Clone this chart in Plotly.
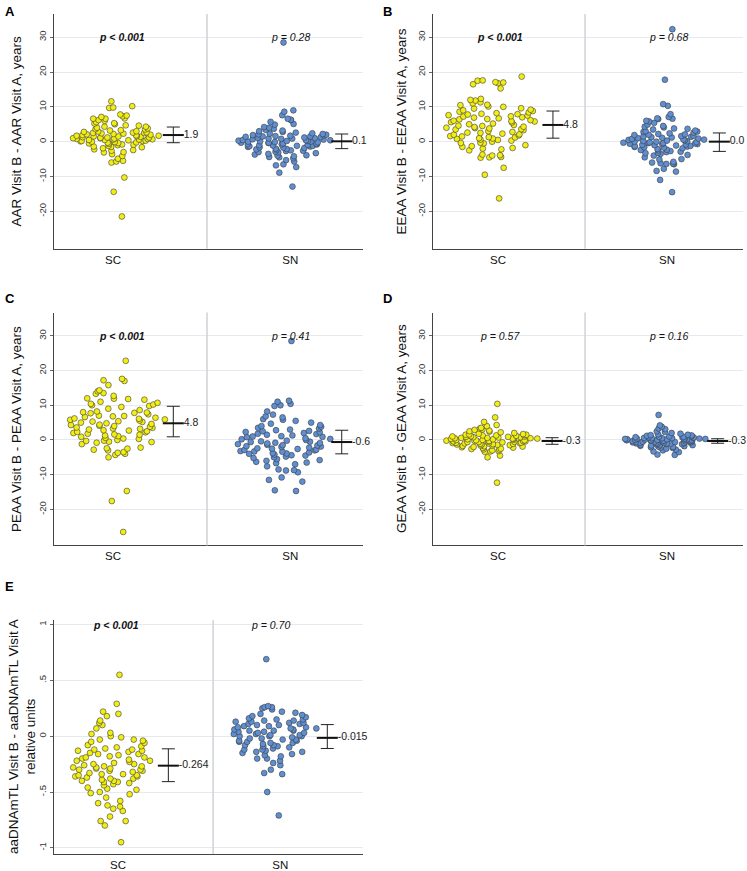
import plotly.graph_objects as go

# ---------------- data ----------------
groups = ["SC", "SN"]

A_SC = [10.2, -21.5, -14.4, -10.3, 11.6, 9.7, 9.8, 7.8, 6.6, 7.5, 7.3, 7.1, 6.2, 5.2, 6.7, 6.6, 4.7, 4.6, 4.3, 5.0,
        4.3, 5.6, 3.8, 3.5, 3.0, 2.8, 2.6, 2.5, 2.4, 2.2, 2.0, 1.9, 1.8, 1.7, 1.6, 1.5, 1.4, 1.3, 1.2, 1.1, 1.0, 0.9,
        0.8, 0.7, 0.6, 0.5, 0.4, 0.3, 0.2, 0.1, 0.0, -0.1, -0.2, -0.3, -0.5, -0.6, -0.8, -1.0, -1.2, -1.4, -1.6, -1.9,
        -2.2, -2.4, -2.6, -3.0, -3.1, -3.6, -4.1, -4.9, -5.5, -5.7, -6.0, 2.1, 3.2, 1.5, 0.5, 2.7, 3.6, 1.0, -0.4, 0.8,
        2.3, 5.3, 6.0, 3.3, 0.2, -1.5, 4.0, 2.9, 1.2, -0.9, 0.6, 1.7, 2.5]
A_SN = [28.5, -12.9, -8.9, -7.3, 9.0, 8.6, 7.6, 6.6, 6.3, 6.2, 5.7, 5.1, 4.9, 4.2, 4.0, 3.7, 3.4, 3.0, 2.8, 2.6, 2.4,
        2.2, 2.0, 1.9, 1.7, 1.6, 1.5, 1.3, 1.2, 1.1, 1.0, 0.9, 0.8, 0.6, 0.5, 0.4, 0.3, 0.2, 0.1, 0.0, -0.1, -0.2, -0.3,
        -0.4, -0.5, -0.6, -0.7, -0.8, -0.9, -1.0, -1.1, -1.2, -1.3, -1.5, -1.6, -1.8, -2.0, -2.1, -2.3, -2.5, -2.7,
        -2.9, -3.1, -3.3, -3.5, -3.7, -3.9, -4.0, -4.2, -4.5, -4.8, -5.3, -5.7, -6.5, -6.8, 1.4, -0.3, 0.7, -1.4, 2.1,
        -2.2, 0.2, 1.8, -3.0, 0.9, -0.8, 3.2, -1.7, 0.4, -4.4, 1.5, -2.6, 0.0, 2.3, -1.2]
B_SC = [16.5, 16.8, 17.5, 17.6, 17.0, 17.1, 18.7, 15.3, 12.3, 11.8, 11.3, 10.6, 10.1, 10.0, 9.6, 9.5, 9.0, 8.8, 8.6,
        8.2, 8.0, 7.8, 7.6, 7.5, 7.3, 7.0, 6.9, 6.7, 6.5, 6.2, 6.0, 5.8, 5.5, 5.2, 5.0, 4.8, 4.5, 4.3, 4.2, 4.0, 3.8,
        3.5, 3.3, 3.0, 2.8, 2.5, 2.3, 2.0, 1.8, 1.5, 1.3, 1.2, 1.0, 0.8, 0.6, 0.5, 0.3, 0.0, -0.3, -0.4, -0.5, -1.3,
        -1.5, -1.8, -2.2, -2.5, -3.7, -3.9, -4.0, -4.4, -4.5, -4.6, -7.5, -9.5, -16.3, 7.2, 9.2, 5.6, 3.6, 2.6, 1.6,
        6.4, 8.4, 4.6, 10.5, 11.0, 0.9, 2.1, 3.9, 5.9, 12.0, -1.0, -2.0, 7.9]
B_SN = [32.3, 17.8, 10.8, 10.3, 7.9, 7.1, 6.7, 6.6, 6.5, 6.0, 5.8, 5.4, 4.9, 4.5, 4.3, 4.1, 3.7, 3.5, 3.2, 3.0, 2.8,
        2.6, 2.4, 2.2, 2.0, 1.9, 1.7, 1.5, 1.4, 1.3, 1.1, 1.0, 0.8, 0.6, 0.5, 0.4, 0.2, 0.1, 0.0, -0.1, -0.2, -0.3,
        -0.4, -0.5, -0.6, -0.7, -0.8, -0.9, -1.0, -1.1, -1.3, -1.4, -1.5, -1.7, -1.9, -2.1, -2.3, -2.5, -2.7, -2.9,
        -3.0, -3.2, -3.5, -3.8, -4.0, -4.5, -5.0, -5.1, -5.8, -6.0, -6.2, -6.3, -6.4, -6.5, -7.8, -8.4, -8.6, -11.0,
        -14.5, 1.2, -0.4, 0.3, 2.9, -1.6, 0.9, -2.4, 1.6, -0.7, 0.0, 2.1, -3.3, 0.6, -1.2, 3.8]
C_SC = [22.8, -26.5, -17.6, -14.7, 17.6, 17.2, 17.0, 15.8, 14.3, 14.0, 13.5, 13.3, 12.7, 12.0, 11.8, 11.6, 11.0, 10.7,
        10.4, 10.2, 9.8, 9.0, 8.6, 8.2, 7.9, 7.7, 7.4, 7.0, 6.8, 6.6, 6.4, 6.1, 5.9, 5.6, 5.4, 5.2, 5.0, 4.8, 4.6, 4.3,
        4.0, 3.8, 3.5, 3.2, 3.0, 2.8, 2.5, 2.2, 2.0, 1.8, 1.6, 1.3, 1.1, 0.9, 0.6, 0.3, 0.0, -0.3, -0.5, -0.6, -0.8,
        -1.2, -2.2, -2.4, -2.5, -2.8, -3.0, -3.5, -3.7, -4.0, -4.3, -5.0, 5.3, 4.4, 6.9, 7.8, 3.6, 2.7, 1.5, 10.0, 11.9,
        8.0, 5.8, 6.2, 0.4, -0.2, 4.1, 2.3, 3.3, 9.5]
C_SN = [28.5, 11.3, 11.0, 10.4, 10.0, 9.8, 8.2, 7.3, 6.8, 6.5, 6.0, 5.8, 5.5, 5.0, 4.7, 4.0, 3.8, 3.3, 3.0, 2.8, 2.5,
        2.2, 2.0, 1.8, 1.5, 1.3, 1.0, 0.8, 0.5, 0.3, 0.0, -0.2, -0.4, -0.6, -0.8, -1.0, -1.2, -1.4, -1.6, -1.8, -2.0,
        -2.2, -2.4, -2.6, -2.8, -3.0, -3.2, -3.4, -3.6, -3.8, -4.0, -4.2, -4.5, -4.8, -5.2, -5.5, -5.8, -6.3, -6.5,
        -6.7, -7.0, -7.6, -8.5, -8.7, -8.8, -9.3, -10.8, -11.5, -12.0, -14.5, -14.7, 0.9, -1.5, 2.6, -3.3, 1.1, -0.5,
        -2.5, 3.5, -5.0, 0.2, -1.9, 4.3, -4.4, -0.9, 1.7, -6.0, 2.3, -2.9, -3.9]
D_SC = [10.4, -12.3, 6.5, 5.2, 4.3, 4.0, 3.5, 3.3, 3.0, 2.7, 2.5, 2.2, 2.0, 1.8, 1.6, 1.5, 1.4, 1.3, 1.2, 1.0, 0.9,
        0.8, 0.7, 0.6, 0.5, 0.4, 0.3, 0.2, 0.1, 0.0, -0.1, -0.2, -0.3, -0.4, -0.5, -0.6, -0.7, -0.8, -0.9, -1.0, -1.1,
        -1.2, -1.3, -1.4, -1.5, -1.6, -1.7, -1.8, -1.9, -2.0, -2.2, -2.3, -2.5, -2.6, -2.8, -3.0, -3.2, -3.3, -3.4,
        -4.5, -5.0, 0.3, -0.2, 1.1, -1.0, 0.6, -0.5, 1.7, -1.3, 0.0, 2.4, -2.1, 0.9, -0.8, 1.5, -0.4, 0.2, -1.6, 1.0,
        -0.6, 0.4, -2.7, 0.8, -0.1, -1.1, 1.3, -0.3, 0.5, -0.9, 2.9]
D_SN = [7.2, 4.2, 3.8, 3.3, 3.1, 2.5, 2.0, 1.8, 1.5, 1.3, 1.2, 1.1, 1.0, 0.9, 0.8, 0.7, 0.6, 0.5, 0.4, 0.3, 0.2, 0.1,
        0.0, -0.1, -0.2, -0.3, -0.4, -0.5, -0.6, -0.7, -0.8, -0.9, -1.0, -1.1, -1.2, -1.3, -1.4, -1.5, -1.6, -1.7,
        -1.8, -2.0, -2.1, -2.3, -2.5, -2.8, -3.0, -3.3, -3.5, -4.2, -4.3, 0.3, -0.3, 0.6, -0.6, 0.1, -0.1, 0.9, -0.9,
        0.0, -0.4, 0.4, -1.2, 1.4, -0.7, 0.2, -0.2, 0.5, -1.0, -0.5, 0.7, -1.5, 0.8, -0.8, 1.6, -2.2, 0.0, -0.3, 2.3,
        -1.9, 0.5, -0.6, 0.2, -1.1, 0.3]
E_SC = [0.55, -0.95, 0.29, 0.22, 0.20, 0.18, 0.14, 0.12, 0.10, 0.07, 0.03, 0.02, 0.00, -0.01, -0.03, -0.04, -0.06,
        -0.08, -0.10, -0.12, -0.13, -0.14, -0.15, -0.16, -0.18, -0.19, -0.20, -0.22, -0.23, -0.24, -0.25, -0.26,
        -0.27, -0.28, -0.29, -0.30, -0.31, -0.32, -0.33, -0.34, -0.35, -0.36, -0.37, -0.38, -0.39, -0.40, -0.41,
        -0.42, -0.44, -0.46, -0.48, -0.50, -0.52, -0.58, -0.60, -0.62, -0.65, -0.67, -0.72, -0.76, -0.76, -0.80,
        -0.05, -0.13, -0.21, -0.28, -0.36, -0.11, -0.17, -0.25, -0.31, -0.40, -0.09, -0.30, -0.38, -0.47, -0.51,
        -0.16, -0.27, -0.34, -0.22, -0.43, -0.55, -0.03, -0.12, -0.35, -0.41, -0.63, -0.19, -0.29]
E_SN = [0.69, -0.71, -0.50, -0.34, -0.33, -0.30, 0.27, 0.26, 0.26, 0.25, 0.24, 0.22, 0.20, 0.18, 0.16, 0.15, 0.14,
        0.13, 0.12, 0.11, 0.10, 0.09, 0.08, 0.07, 0.06, 0.05, 0.05, 0.04, 0.03, 0.02, 0.01, 0.00, 0.00, -0.01, -0.02,
        -0.03, -0.04, -0.05, -0.06, -0.07, -0.08, -0.09, -0.10, -0.11, -0.12, -0.13, -0.14, -0.15, -0.16, -0.18,
        -0.20, -0.22, -0.24, -0.26, 0.14, 0.06, -0.03, 0.10, -0.05, 0.02, 0.17, -0.12, 0.08, -0.09, 0.04, 0.12,
        -0.02, 0.19, -0.17, 0.00, 0.09, -0.06, 0.03, 0.13, -0.14, 0.07, 0.21, -0.04, 0.11, -0.20, 0.01, 0.15, -0.08,
        0.05]

means = {"A": [1.9, 0.1], "B": [4.8, 0.0], "C": [4.8, -0.6], "D": [-0.3, -0.3], "E": [-0.264, -0.015]}
ci_lo = {"A": [-0.3, -2.0], "B": [1.0, -2.8], "C": [0.9, -4.0], "D": [-1.25, -0.95], "E": [-0.407, -0.110]}
ci_hi = {"A": [4.2, 2.2], "B": [8.8, 2.5], "C": [9.7, 2.8], "D": [0.65, 0.35], "E": [-0.113, 0.104]}
mean_labels = {"A": ["1.9", "0.1"], "B": ["4.8", "0.0"], "C": ["4.8", "-0.6"], "D": ["-0.3", "-0.3"],
               "E": ["-0.264", "-0.015"]}
p_texts = {"A": ["<b><i>p < 0.001</i></b>", "<i>p = 0.28</i>"],
           "B": ["<b><i>p < 0.001</i></b>", "<i>p = 0.68</i>"],
           "C": ["<b><i>p < 0.001</i></b>", "<i>p = 0.41</i>"],
           "D": ["<i>p = 0.57</i>", "<i>p = 0.16</i>"],
           "E": ["<b><i>p < 0.001</i></b>", "<i>p = 0.70</i>"]}
y_titles = {"A": "AAR Visit B - AAR Visit A, years",
            "B": "EEAA Visit B - EEAA Visit A, years",
            "C": "PEAA Visit B - PEAA Visit A, years",
            "D": "GEAA Visit B - GEAA Visit A, years",
            "E": "aaDNAmTL Visit B - aaDNAmTL Visit A<br>relative units"}
years_ticks = [-20, -10, 0, 10, 20, 30]
years_ticktext = ["-20", "-10", "0", "10", "20", "30"]
tl_ticks = [-1, -0.5, 0, 0.5, 1]
tl_ticktext = ["-1", "-.5", "0", ".5", "1"]

values = {"A": [A_SC, A_SN], "B": [B_SC, B_SN], "C": [C_SC, C_SN], "D": [D_SC, D_SN], "E": [E_SC, E_SN]}

# ---------------- layout config ----------------
W, H = 747, 871
def px_x(p): return p / W
def px_y(p): return 1 - p / H

panels = {
    "A": dict(i=1, xpx=(54, 363), ypx=(14, 250), xr=[0.667, 2.41], div=1.53, cx=[1.03, 1.98], ex=[1.34, 2.29],
              px=[1.05, 2.0], yr=[-30.8, 36.7], lab=(3, 2), tx=16),
    "B": dict(i=2, xpx=(433, 743), ypx=(14, 250), xr=[0.615, 2.45], div=1.515, cx=[0.97, 2.0], ex=[1.325, 2.31],
              px=[1.01, 2.01], yr=[-30.8, 36.7], lab=(381, 2), tx=401),
    "C": dict(i=3, xpx=(54, 363), ypx=(314, 548), xr=[0.667, 2.41], div=1.53, cx=[1.03, 1.98], ex=[1.34, 2.29],
              px=[1.05, 2.0], yr=[-30.4, 36.7], lab=(3, 290), tx=16),
    "D": dict(i=4, xpx=(433, 743), ypx=(314, 548), xr=[0.615, 2.45], div=1.515, cx=[0.97, 2.0], ex=[1.32, 2.30],
              px=[1.01, 2.01], yr=[-30.4, 36.7], lab=(381, 290), tx=401),
    "E": dict(i=5, xpx=(54, 363), ypx=(623, 858), xr=[0.605, 2.51], div=1.586, cx=[0.975, 1.96], ex=[1.31, 2.29],
              px=[0.99, 1.94], yr=[-1.056, 1.04], lab=(3, 580), tx=22),
}
colors = ["#f2ee12", "#5f8fd3"]
FONT = "Liberation Sans, Arial, sans-serif"

fig = go.Figure()
layout = dict(width=W, height=H, margin=dict(l=0, r=0, t=0, b=0), plot_bgcolor="white",
              paper_bgcolor="white", showlegend=False, font=dict(family=FONT, color="#111"))
annotations = []
shapes = []

for key, cfg in panels.items():
    i = cfg["i"]
    xa = "x" if i == 1 else f"x{i}"
    ya = "y" if i == 1 else f"y{i}"
    xname = "xaxis" if i == 1 else f"xaxis{i}"
    yname = "yaxis" if i == 1 else f"yaxis{i}"
    is_tl = key == "E"
    layout[xname] = dict(domain=[px_x(cfg["xpx"][0]), px_x(cfg["xpx"][1])], range=cfg["xr"],
                         tickvals=[1, 2], ticktext=groups, showgrid=False, zeroline=False,
                         showline=True, linecolor="#444", linewidth=1, ticks="",
                         tickfont=dict(size=11.5, color="#111"), anchor=ya, fixedrange=True)
    layout[yname] = dict(domain=[px_y(cfg["ypx"][1]), px_y(cfg["ypx"][0])], range=cfg["yr"],
                         tickvals=tl_ticks if is_tl else years_ticks,
                         ticktext=tl_ticktext if is_tl else years_ticktext,
                         tickangle=-90, showgrid=True, gridcolor="#e6e9ee", gridwidth=1, zeroline=False,
                         showline=True, linecolor="#444", linewidth=1, ticks="outside", ticklen=3,
                         tickcolor="#666", tickfont=dict(size=9.5, color="#333"), anchor=xa, fixedrange=True)
    shapes.append(dict(type="line", xref=xa, yref=f"{ya} domain", x0=cfg["div"], x1=cfg["div"], y0=0, y1=1,
                       line=dict(color="#cfd2d6", width=1.5)))
    for g in range(2):
        vals = values[key][g]
        fig.add_trace(go.Box(y=vals, x0=cfg["cx"][g], xaxis=xa, yaxis=ya, width=0.56,
                             boxpoints="all", jitter=1, pointpos=0, fillcolor="rgba(0,0,0,0)",
                             line=dict(width=0, color="rgba(0,0,0,0)"), whiskerwidth=0,
                             marker=dict(size=5.8, color=colors[g], line=dict(width=0.6, color="#3a3a3a")),
                             hoverinfo="y"))
        m = means[key][g]
        fig.add_trace(go.Scatter(x=[cfg["ex"][g]], y=[m], xaxis=xa, yaxis=ya, mode="markers+text",
                                 marker=dict(symbol="line-ew", size=15, line=dict(width=2, color="#111")),
                                 error_y=dict(type="data", symmetric=False, array=[ci_hi[key][g] - m],
                                              arrayminus=[m - ci_lo[key][g]], color="#222", thickness=1, width=6.5),
                                 text=[mean_labels[key][g]], textposition="middle right",
                                 textfont=dict(size=10.5, color="#222"), cliponaxis=False, hoverinfo="skip"))
        annotations.append(dict(x=cfg["px"][g], y=1 if is_tl else 30, xref=xa, yref=ya, text=p_texts[key][g],
                                showarrow=False, font=dict(size=10.5, color="#111")))
    annotations.append(dict(x=px_x(cfg["lab"][0]), y=px_y(cfg["lab"][1]), xref="paper", yref="paper",
                            xanchor="left", yanchor="top", text=f"<b>{key}</b>", showarrow=False,
                            font=dict(size=13, color="#000")))
    yc = (cfg["ypx"][0] + cfg["ypx"][1]) / 2
    annotations.append(dict(x=px_x(cfg["tx"]), y=px_y(yc), xref="paper", yref="paper", xanchor="center",
                            yanchor="middle", text=y_titles[key], textangle=-90, showarrow=False,
                            font=dict(size=13.5, color="#111")))

layout["annotations"] = annotations
layout["shapes"] = shapes
fig.update_layout(**layout)
fig.write_html("out.html", config={"displayModeBar": False},
               post_script="document.body.style.margin='0px';document.body.style.padding='0px';")
